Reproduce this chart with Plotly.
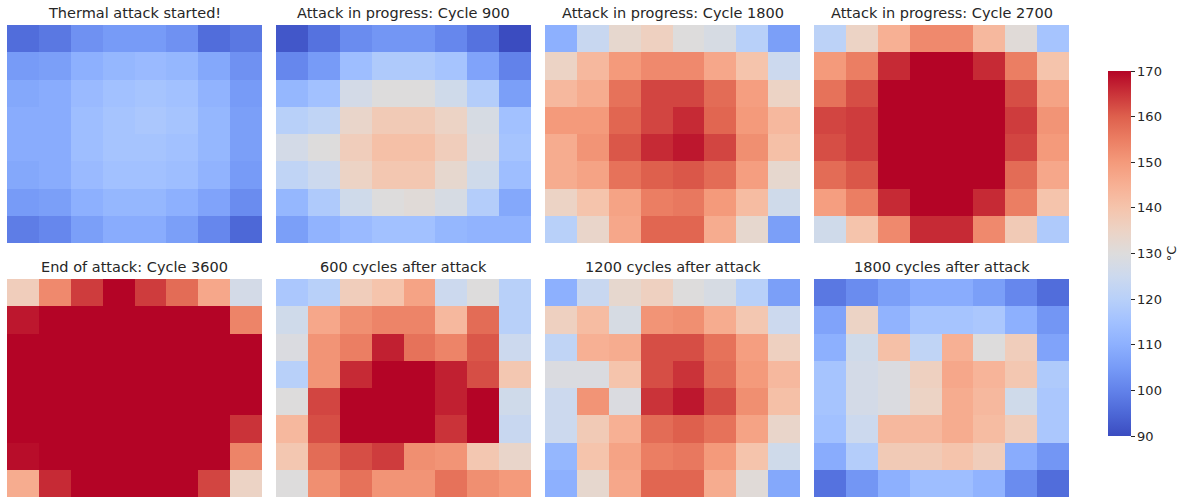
import plotly.graph_objects as go

# Panel titles, in reading order
titles = [
    "Thermal attack started!",
    "Attack in progress: Cycle 900",
    "Attack in progress: Cycle 1800",
    "Attack in progress: Cycle 2700",
    "End of attack: Cycle 3600",
    "600 cycles after attack",
    "1200 cycles after attack",
    "1800 cycles after attack",
]

# 8x8 temperature grids (°C), row 0 at the top
temp_start = [
    [96, 98, 103, 105, 105, 103, 96, 98],
    [105, 106, 110, 112, 113, 112, 108, 103],
    [108, 109, 113, 115, 116, 115, 111, 105],
    [109, 109, 114, 116, 117, 116, 112, 106],
    [109, 109, 114, 116, 116, 115, 112, 106],
    [108, 109, 113, 115, 115, 114, 111, 105],
    [105, 106, 110, 112, 112, 110, 107, 102],
    [99, 101, 106, 109, 109, 106, 101, 95],
]
temp_900 = [
    [92, 97, 102, 104, 104, 101, 97, 90],
    [101, 105, 114, 118, 118, 116, 107, 100],
    [112, 115, 127, 130, 130, 126, 119, 106],
    [120, 122, 134, 138, 138, 135, 128, 115],
    [127, 130, 137, 141, 141, 137, 129, 116],
    [122, 125, 135, 139, 139, 133, 126, 114],
    [112, 118, 126, 130, 131, 128, 119, 108],
    [106, 111, 113, 115, 115, 112, 111, 111],
]
temp_1800 = [
    [110, 124, 133, 136, 130, 128, 120, 106],
    [135, 143, 150, 153, 153, 147, 140, 125],
    [143, 146, 157, 163, 163, 158, 149, 135],
    [150, 150, 159, 163, 166, 159, 150, 143],
    [146, 151, 161, 166, 168, 163, 152, 141],
    [146, 148, 157, 160, 161, 158, 149, 133],
    [135, 140, 148, 155, 156, 150, 142, 126],
    [120, 134, 147, 159, 159, 146, 133, 106],
]
temp_2700 = [
    [121, 135, 145, 153, 153, 143, 131, 116],
    [150, 155, 166, 175, 175, 166, 155, 140],
    [157, 162, 175, 175, 175, 175, 162, 148],
    [163, 164, 175, 175, 175, 175, 164, 151],
    [162, 164, 175, 175, 175, 175, 163, 150],
    [158, 161, 175, 175, 175, 175, 158, 147],
    [149, 155, 166, 175, 175, 166, 155, 140],
    [126, 140, 153, 166, 166, 153, 138, 118],
]
temp_3600 = [
    [137, 153, 164, 175, 164, 158, 147, 127],
    [168, 175, 175, 175, 175, 175, 175, 154],
    [175, 175, 175, 175, 175, 175, 175, 175],
    [175, 175, 175, 175, 175, 175, 175, 175],
    [175, 175, 175, 175, 175, 175, 175, 175],
    [175, 175, 175, 175, 175, 175, 175, 165],
    [169, 175, 175, 175, 175, 175, 175, 154],
    [146, 166, 175, 175, 175, 175, 163, 135],
]
temp_after_600 = [
    [117, 120, 137, 140, 148, 125, 130, 120],
    [126, 147, 152, 154, 154, 143, 158, 120],
    [129, 151, 155, 167, 157, 154, 161, 125],
    [120, 151, 166, 175, 175, 167, 162, 139],
    [130, 163, 175, 175, 175, 167, 175, 126],
    [143, 162, 175, 175, 175, 165, 175, 124],
    [139, 158, 162, 164, 152, 151, 139, 134],
    [130, 152, 157, 151, 151, 157, 152, 150],
]
temp_after_1200 = [
    [110, 124, 133, 136, 130, 128, 120, 106],
    [136, 142, 128, 151, 152, 146, 139, 125],
    [122, 145, 146, 162, 162, 157, 149, 136],
    [129, 129, 140, 162, 165, 158, 150, 143],
    [125, 151, 129, 165, 168, 162, 152, 141],
    [125, 138, 145, 158, 160, 157, 148, 134],
    [112, 140, 148, 155, 156, 150, 140, 126],
    [110, 133, 147, 159, 159, 146, 131, 108],
]
temp_after_1800 = [
    [98, 102, 106, 109, 109, 106, 101, 96],
    [107, 135, 111, 116, 116, 117, 110, 104],
    [110, 126, 141, 122, 145, 130, 137, 107],
    [116, 127, 129, 136, 147, 144, 139, 118],
    [116, 127, 129, 135, 146, 143, 126, 117],
    [115, 125, 143, 143, 146, 142, 137, 117],
    [109, 119, 138, 138, 140, 137, 109, 104],
    [97, 104, 110, 114, 114, 111, 102, 96],
]

grids = [temp_start, temp_900, temp_1800, temp_2700,
         temp_3600, temp_after_600, temp_after_1200, temp_after_1800]

T_MIN, T_MAX = 90, 170
cbar_ticks = [90, 100, 110, 120, 130, 140, 150, 160, 170]

# diverging blue-grey-red scale
coolwarm = [
    [0.0, "rgb(59,76,192)"],
    [0.0625, "rgb(77,104,215)"],
    [0.125, "rgb(98,130,234)"],
    [0.1875, "rgb(119,155,247)"],
    [0.25, "rgb(141,176,254)"],
    [0.3125, "rgb(162,193,255)"],
    [0.375, "rgb(184,208,249)"],
    [0.4375, "rgb(204,217,238)"],
    [0.5, "rgb(221,220,220)"],
    [0.5625, "rgb(236,211,197)"],
    [0.625, "rgb(245,196,172)"],
    [0.6875, "rgb(247,176,148)"],
    [0.75, "rgb(244,154,123)"],
    [0.8125, "rgb(235,126,99)"],
    [0.875, "rgb(222,96,77)"],
    [0.9375, "rgb(202,51,57)"],
    [1.0, "rgb(180,4,38)"],
]

W, H = 1183, 502
col_px = [(7, 262), (276, 531), (545, 800), (814, 1069)]
row_px = [(25, 243), (279, 497)]

fig = go.Figure()
font_family = "DejaVu Sans, Verdana, sans-serif"

for i, (grid, title) in enumerate(zip(grids, titles)):
    r, c = divmod(i, 4)
    n = i + 1
    xa = "x" if n == 1 else f"x{n}"
    ya = "y" if n == 1 else f"y{n}"
    fig.add_trace(go.Heatmap(
        z=grid, xaxis=xa, yaxis=ya, coloraxis="coloraxis",
        hovertemplate="%{z} °C<extra></extra>",
    ))
    x0, x1 = col_px[c]
    y0, y1 = row_px[r]
    dom_x = [x0 / W, x1 / W]
    dom_y = [1 - y1 / H, 1 - y0 / H]
    xkey = "xaxis" if n == 1 else f"xaxis{n}"
    ykey = "yaxis" if n == 1 else f"yaxis{n}"
    fig.update_layout(**{
        xkey: dict(domain=dom_x, visible=False, range=[-0.5, 7.5],
                   anchor=ya, fixedrange=True),
        ykey: dict(domain=dom_y, visible=False, range=[7.5, -0.5],
                   anchor=xa, fixedrange=True),
    })
    fig.add_annotation(
        text=title, x=(x0 + x1) / 2 / W, y=1 - (y0 - 12) / H,
        xref="paper", yref="paper", showarrow=False,
        xanchor="center", yanchor="middle",
        font=dict(size=14.5, color="#262626", family=font_family),
    )

fig.update_layout(
    width=W, height=H,
    margin=dict(l=0, r=0, t=0, b=0, autoexpand=False),
    paper_bgcolor="white", plot_bgcolor="white",
    font=dict(family=font_family, color="#262626"),
    coloraxis=dict(
        colorscale=coolwarm, cmin=T_MIN, cmax=T_MAX,
        colorbar=dict(
            x=1108 / W, xanchor="left", xref="container",
            y=1 - 436 / H, yanchor="bottom", yref="container",
            len=365 / H, lenmode="fraction",
            thickness=23, thicknessmode="pixels",
            xpad=0, ypad=0,
            outlinewidth=0,
            tickvals=cbar_ticks, ticks="outside", ticklen=4,
            tickcolor="#262626",
            tickfont=dict(size=13, color="#262626", family=font_family),
            title=dict(text="°C", side="right",
                       font=dict(size=13, color="#262626", family=font_family)),
        ),
    ),
)

fig.write_html("out.html")
